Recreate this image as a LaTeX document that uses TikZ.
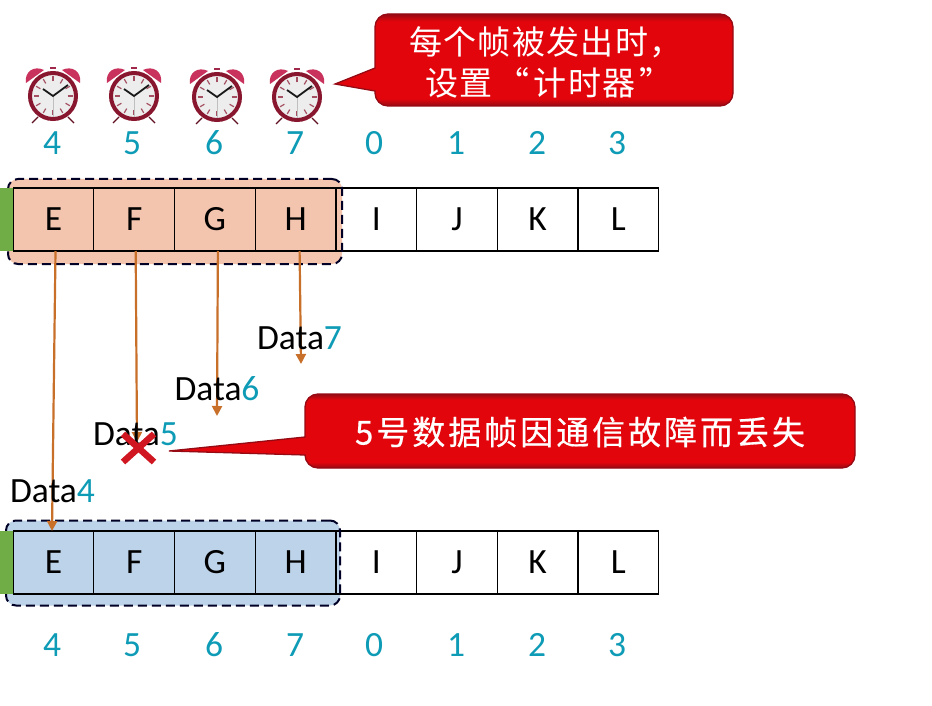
\documentclass[tikz,border=0pt]{standalone}
\usepackage{fontspec}
\setmainfont{Carlito}
\newfontfamily\cjk[LetterSpace=4]{Noto Sans CJK SC}
\newfontfamily\cjkwide[LetterSpace=9,FakeBold=0.5]{Noto Sans CJK SC}
\usetikzlibrary{arrows.meta,positioning}
\definecolor{numteal}{RGB}{14,155,182}
\definecolor{sendpeach}{RGB}{243,196,174}
\definecolor{recvblue}{RGB}{189,211,233}
\definecolor{framegreen}{RGB}{112,173,71}
\definecolor{linkorange}{RGB}{200,112,42}
\definecolor{bubblered}{RGB}{226,6,12}
\definecolor{bubbledark}{RGB}{150,10,20}
\definecolor{clockred}{RGB}{135,22,46}
\definecolor{clockbell}{RGB}{200,50,92}
\definecolor{crossred}{RGB}{208,22,32}
\pgfdeclareverticalshading{bubbleshade}{100bp}{color(0bp)=(bubbledark); color(25bp)=(bubbledark); color(29bp)=(bubblered); color(71bp)=(bubblered); color(75bp)=(bubbledark); color(100bp)=(bubbledark)}

\tikzset{
  alarm/.pic={
    \draw[clockred!70!black, line width=1.4pt] (-15,21) -- (-21,27) (15,21) -- (21,27);
    \fill[clockbell] (-27,-13) .. controls (-29,-24) and (-19,-31) .. (-9,-26) -- cycle;
    \fill[clockbell] (27,-13) .. controls (29,-24) and (19,-31) .. (9,-26) -- cycle;
    \fill[clockbell!80!black] (-3,-29) rectangle (3,-27);
    \draw[clockred, line width=4pt, fill=black!7] (0,0) circle (23);
    \foreach \a in {0,30,...,330} {
      \draw[clockred!75!white, line width=1.2pt] (\a:14.5) -- (\a:19.5);
    }
    \draw[black!25, line width=0.9pt] (0,0) -- (0,21);
    \draw[black!90, line width=1.8pt] (-10,-7) -- (0,0) -- (15,-11);
  }
}

\begin{document}
\begin{tikzpicture}[x=1pt, y=-1pt,
    every node/.style={font=\fontsize{35.5}{36}\selectfont, inner sep=0pt, outer sep=0pt},
    framecell/.style={draw=black, line width=1.2pt, minimum width=80.7pt, minimum height=63pt, text height=22pt, text depth=0pt},
    windowbox/.style={minimum width=334pt, minimum height=85pt, rounded corners=10pt},
    windowline/.style={draw=black!85!blue, line width=2pt, dash pattern=on 9pt off 5pt, rounded corners=10pt},
    seqnum/.style={text=numteal, text height=22pt, text depth=0pt},
    datalabel/.style={text=black, text height=22pt, text depth=0pt},
    dataarrow/.style={draw=linkorange, line width=2.2pt, -{Triangle[length=10pt, width=10pt]}},
    bubble/.style={shading=bubbleshade, draw=bubbledark, line width=1.3pt},
    bubbletext/.style={text=white, align=center}]
  \useasboundingbox (0,0) rectangle (932,706);
  \fill[white] (0,0) rectangle (932,706);

  \foreach \x/\y in {53/96, 134/96, 217/97, 297/97} {
    \pic at (\x,\y) {alarm};
  }
  \foreach \n/\x in {4/52, 5/132, 6/214, 7/295, 0/374, 1/456, 2/537, 3/617} {
    \node[seqnum] (topnum\n) at (\x,143) {\n};
    \node[seqnum] (botnum\n) at (\x,645) {\n};
  }

  \node[windowbox, fill=sendpeach] (topwin) at (175,221.5) {};
  \node[windowbox, fill=recvblue] (botwin) at (173,563) {};
  \foreach \s/\i in {E/0, F/1, G/2, H/3, I/4, J/5, K/6, L/7} {
    \node[framecell] (top\s) at ({53.5+80.7*\i},219.5) {\s};
    \node[framecell] (bot\s) at ({53.5+80.7*\i},562.5) {\s};
  }
  \node[windowbox, windowline] (topdash) at (175,221.5) {};
  \node[windowbox, windowline] (botdash) at (173,563) {};
  \fill[framegreen] (0,188) rectangle (13,251);
  \fill[framegreen] (0,531) rectangle (13,594);

  \coordinate (end4) at (52,531);
  \coordinate (end5) at (137,442);
  \coordinate (end6) at (217,416);
  \coordinate (end7) at (301,364);
  \draw[dataarrow] ([xshift=2pt]topE.south) -- (end4);
  \draw[dataarrow] ([xshift=1.5pt]topF.south) -- (end5);
  \draw[dataarrow] ([xshift=3pt]topG.south) -- (end6);
  \draw[dataarrow] ([xshift=4pt]topH.south) -- (end7);

  \node[datalabel] (data7) at (299.5,338) {Data\textcolor{numteal}{7}};
  \node[datalabel] (data6) at (217,389) {Data\textcolor{numteal}{6}};
  \node[datalabel] (data5) at (135.5,434) {Data\textcolor{numteal}{5}};
  \node[datalabel] (data4) at (52.5,491) {Data\textcolor{numteal}{4}};

  \draw[crossred, line width=6.5pt] (123,434) -- (154,462) (154,434) -- (123,462);

  \draw[bubble] (335,84) -- (375,68) [rounded corners=13pt] -- (375,14) -- (733,14) -- (733,106) -- (375,106) [sharp corners] -- (375,91) -- cycle;
  \node[bubbletext, font=\fontsize{33}{41}\selectfont\cjk] (timernote) at (546,62) {每个帧被发出时，\\\hspace{6pt}设置\hspace{4pt}“\hspace{4pt}计时器\hspace{4pt}”};

  \draw[bubble] (169,451) -- (305,437) [rounded corners=13pt] -- (305,394) -- (855,394) -- (855,468) -- (305,468) [sharp corners] -- (305,455) -- cycle;
  \node[bubbletext, font=\fontsize{33}{41}\selectfont\cjkwide] (lostnote) at (580,432) {5号数据帧因通信故障而丢失};
\end{tikzpicture}
\end{document}
